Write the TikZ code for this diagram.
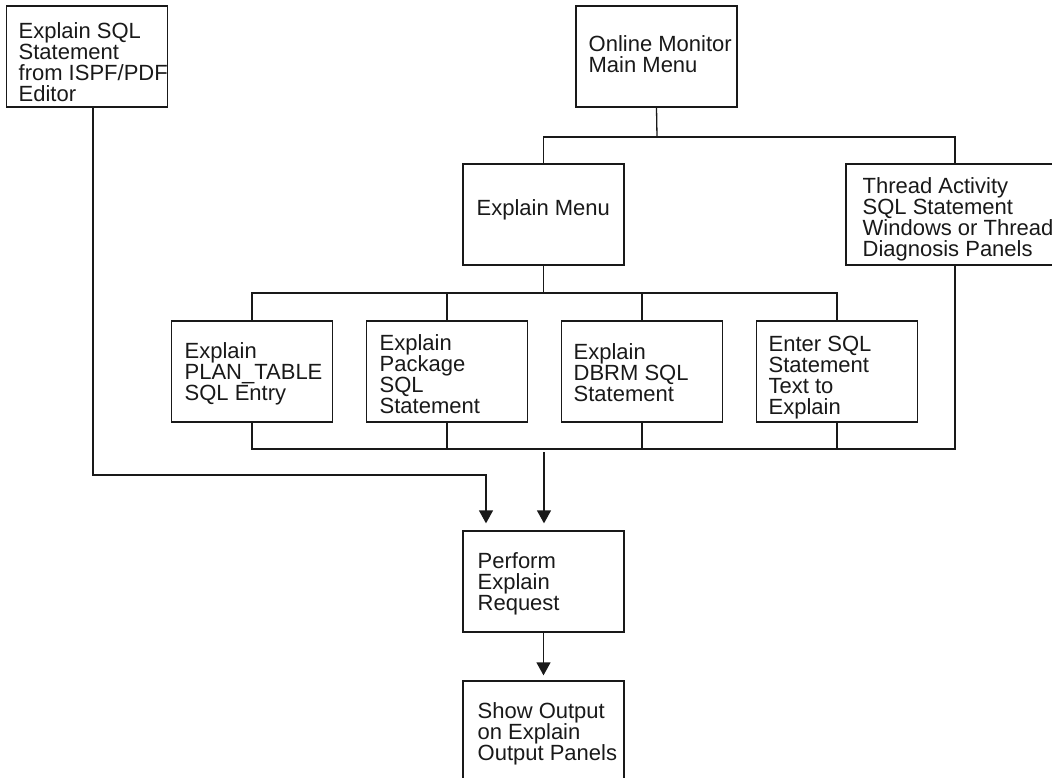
\documentclass[tikz,border=0pt]{standalone}
\usepackage{fontspec}
\setmainfont{Liberation Sans}
\usetikzlibrary{arrows.meta,calc}
\begin{document}
\begin{tikzpicture}[x=1pt,y=-1pt,
  line width=1.3pt, draw={black!90},
  box/.style={draw, rectangle, inner sep=0pt, minimum width=161pt, minimum height=101pt},
  txt/.style={anchor=north west, inner sep=0pt, align=left, text=black!90,
              font=\fontsize{22}{21}\selectfont},
  flow/.style={-{Triangle[width=14pt,length=13pt]}}]
\useasboundingbox (0,0) rectangle (1052,778);
\clip (0,0) rectangle (1052,778);

% boxes
\node[box] (ispf)   at (87,56.5)    {};
\node[box] (omm)    at (656.5,56.5) {};
\node[box] (em)     at (543.5,214.5) {};
\node[box, minimum width=218pt] (thread) at (955,214.5) {};
\node[box] (b1)     at (252,371.5) {};
\node[box] (b2)     at (447,371.5) {};
\node[box] (b3)     at (642,371.5) {};
\node[box] (b4)     at (837,371.5) {};
\node[box] (perf)   at (543.5,581.5) {};
\node[box] (show)   at (543.5,731.5) {};

% box texts
\node[txt] (tispf)   at (18,22)   {Explain SQL\\Statement\\from ISPF/PDF\\Editor};
\node[txt] (tomm)    at (588,35)  {Online Monitor\\Main Menu};
\node[txt] (tem)     at (476,199) {Explain Menu};
\node[txt] (tthread) at (862,177) {Thread Activity\\SQL Statement\\Windows or Thread\\Diagnosis Panels};
\node[txt] (tb1)     at (184,342) {Explain\\PLAN\_TABLE\\SQL Entry};
\node[txt] (tb2)     at (379,334) {Explain\\Package\\SQL\\Statement};
\node[txt] (tb3)     at (573,343) {Explain\\DBRM SQL\\Statement};
\node[txt] (tb4)     at (768,335) {Enter SQL\\Statement\\Text to\\Explain};
\node[txt] (tperf)   at (477,552) {Perform\\Explain\\Request};
\node[txt] (tshow)   at (477,702) {Show Output\\on Explain\\Output Panels};

% junction points
\coordinate (busA) at (657,137);
\coordinate (busB) at (543.5,293);
\coordinate (busC) at (544,449);
\coordinate (busD) at (544,452);
\coordinate (jL)   at (486,475);

% main menu to explain menu and thread panels
\draw (omm.south) -- (busA);
\draw (em.north) |- (busA) -| (thread.north);

% explain menu to the four explain options
\draw (em.south) -- (busB);
\draw (b1.north) |- (busB) -| (b4.north);
\draw (b2.north) -- (b2.north |- busB);
\draw (b3.north) -- (b3.north |- busB);

% options and thread panels gathered below
\draw (b1.south) |- (busC) -| (thread.south);
\draw (b2.south) -- (b2.south |- busC);
\draw (b3.south) -- (b3.south |- busC);
\draw (b4.south) -- (b4.south |- busC);

% arrows into the explain request
\draw[flow, shorten >=7pt] (busD) -- (busD |- perf.north);
\draw[flow, shorten >=7pt] ([xshift=6pt]ispf.south) |- (jL) -- (jL |- perf.north);
\draw[flow, shorten >=5pt] (perf.south) -- (show.north);
\end{tikzpicture}
\end{document}
